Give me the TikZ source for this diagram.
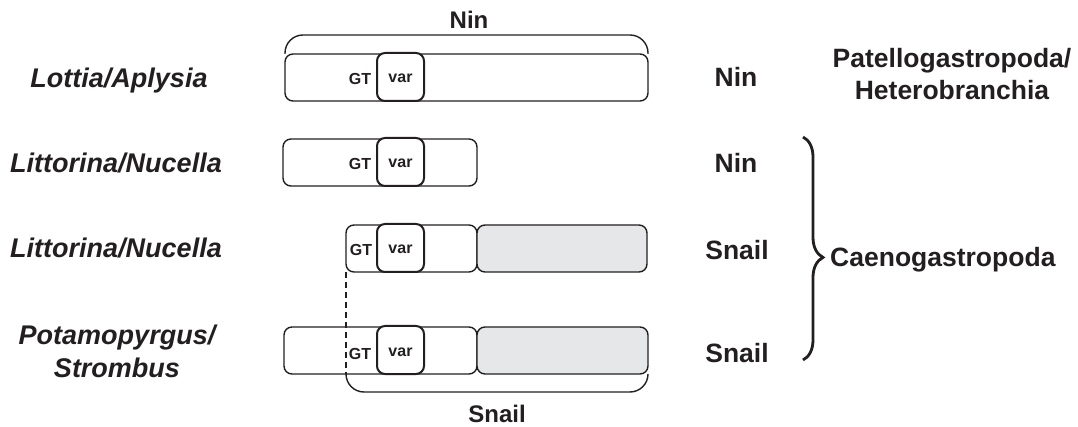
\documentclass[tikz,border=0pt]{standalone}
\usepackage{fontspec}
\setmainfont{Liberation Sans}
\usetikzlibrary{decorations.pathreplacing}
\definecolor{ink}{HTML}{231F20}
\definecolor{shade}{HTML}{E6E7E8}
\begin{document}
\begin{tikzpicture}[x=1pt, y=-1pt,
  seg/.style={draw=ink, line width=1.4pt, rounded corners=8pt, inner sep=0pt,
    outer sep=0pt, minimum height=47pt, anchor=north west},
  gene/.style={seg, fill=shade},
  varbox/.style={draw=ink, line width=2pt, rounded corners=8pt, fill=white,
    inner sep=0pt, outer sep=0pt, minimum width=47pt, minimum height=48pt,
    anchor=north west, text=ink, text height=12pt, text depth=0pt,
    font=\fontsize{16}{18}\selectfont\bfseries},
  gt/.style={anchor=base, inner sep=0pt, text=ink,
    font=\fontsize{16}{18}\selectfont\bfseries},
  taxon/.style={anchor=base, inner sep=0pt, text=ink, align=center,
    font=\fontsize{27}{33}\selectfont\bfseries\itshape},
  kind/.style={anchor=base, inner sep=0pt, text=ink,
    font=\fontsize{26.5}{32}\selectfont\bfseries},
  span/.style={anchor=base, inner sep=0pt, text=ink, text depth=0pt,
    font=\fontsize{24}{28}\selectfont\bfseries},
  bracket/.style={draw=ink, line width=1.4pt, rounded corners=18pt},
]
\useasboundingbox (0,0) rectangle (1078,427);

% species names (base anchor sits on the last line)
\node[taxon] (t1) at (119,88) {Lottia/Aplysia};
\node[taxon] (t2) at (116,173) {Littorina/Nucella};
\node[taxon] (t3) at (116,258) {Littorina/Nucella};
\node[taxon] (t4) at (117,377) {Potamopyrgus/\\Strombus};

% row 1
\node[seg, minimum width=363pt] (b1) at (285,54) {};
\node[gt] (g1) at (360,85) {GT};
\node[varbox] (v1) at (377,53) {var};

% row 2
\node[seg, minimum width=194pt] (b2) at (283,139) {};
\node[gt] (g2) at (360,170) {GT};
\node[varbox] (v2) at (377,138) {var};

% row 3
\node[seg, minimum width=131pt] (b3) at (346,225) {};
\node[gene, minimum width=170pt] (s3) at (477,225) {};
\node[gt] (g3) at (361,256) {GT};
\node[varbox] (v3) at (377,224) {var};

% row 4
\node[seg, minimum width=193pt] (b4) at (284,327) {};
\node[gene, minimum width=171pt] (s4) at (477,327) {};
\node[gt] (g4) at (360,359) {GT};
\node[varbox] (v4) at (377,326) {var};

% spans above and below
\draw[bracket] (b1.north west) -- ++(0,-19) -| (b1.north east);
\node[span] (nin) at (469,29) {Nin};
\draw[ink, line width=1.2pt, dash pattern=on 6pt off 4pt] (b3.south west) -- (b3.south west |- b4.south);
\draw[bracket] (b3.south west |- b4.south) -- ++(0,18) -| (s4.south east);
\node[span] (snail) at (497,422) {Snail};

% product labels
\node[kind] (k1) at (736,87) {Nin};
\node[kind] (k2) at (736,173) {Nin};
\node[kind] (k3) at (737,260) {Snail};
\node[kind] (k4) at (737,362) {Snail};

% clades
\node[kind, align=center] (c1) at (952,100) {Patellogastropoda/\\Heterobranchia};
\coordinate (bt) at (803,137);
\coordinate (bb) at (803,360);
\draw[ink, line width=2.8pt, decorate, decoration={brace, amplitude=20pt, aspect=0.54}] (bt) -- (bb);
\node[kind, anchor=base west] (c2) at (830,267) {Caenogastropoda};
\end{tikzpicture}
\end{document}
